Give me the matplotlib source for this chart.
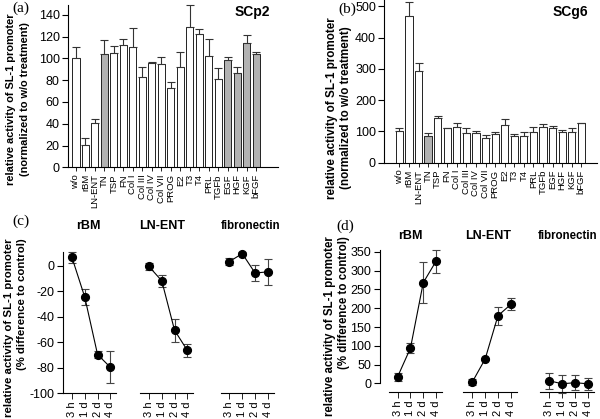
import matplotlib
matplotlib.use('Agg')
import matplotlib.pyplot as plt
import numpy as np

W, H = 600, 419
plt.rcParams['font.family'] = ['Liberation Sans', 'DejaVu Sans']
plt.rcParams['axes.unicode_minus'] = False
plt.rcParams['axes.linewidth'] = 0.8

# bar chart data (a) SCp2 and (b) SCg6
treatments = ['w/o', 'rBM', 'LN-ENT', 'TN', 'TSP', 'FN', 'Col I', 'Col III', 'Col IV',
              'Col VII', 'PROG', 'E2', 'T3', 'T4', 'PRL', 'TGFb', 'EGF', 'HGF', 'KGF', 'bFGF']
scp2_vals = [100, 20.5, 40.4, 103.6, 104.6, 112, 110, 82.5, 96, 94.5, 72.5, 91.7,
             128.4, 122.3, 101.8, 81.3, 98.4, 86.5, 114.3, 104]
scp2_err = [10.7, 6.5, 3.6, 12.9, 6.4, 5.4, 18, 9.5, 0.6, 6.7, 5.8, 13.8,
            20.2, 4.6, 15.9, 9.5, 3.1, 5.2, 6.7, 1.5]
scp2_gray = ['TN', 'EGF', 'HGF', 'KGF', 'bFGF']

scg6_vals = [101, 468, 292.5, 84, 141.5, 109.6, 115, 95.7, 95.7, 80, 90.4, 119,
             85, 85, 97, 114, 111.7, 99, 97, 125.5]
scg6_err = [8.6, 46, 25.5, 9.6, 6.5, 1, 12.7, 13.9, 6.3, 9, 7.6, 20,
            7.5, 14, 17, 10.5, 6.3, 7, 12.6, 2.2]
scg6_gray = ['TN']

# time course data (c) and (d)
times = ['3 h', '1 d', '2 d', '4 d']
panels = ['rBM', 'LN-ENT', 'fibronectin']
c_vals = [[6.5, -24.6, -69.6, -79.6],
          [-0.6, -11.8, -50.6, -66.4],
          [3.3, 9.5, -5.7, -4.8]]
c_err = [[4.2, 6, 2.5, 12.5],
         [3, 4.5, 9.2, 5.1],
         [3, 1, 6.1, 10.3]]
d_vals = [[18, 94, 268, 325],
          [4, 65, 180, 210],
          [7, -1, 2, -1]]
d_err = [[10.5, 14, 55, 31],
         [7, 3, 24.5, 16],
         [22, 24, 20, 16]]

fig = plt.figure(figsize=(W / 100, H / 100), dpi=100)


def px_axes(left, top, right, bottom):
    return fig.add_axes([left / W, 1 - bottom / H, (right - left) / W, (bottom - top) / H])


def bar_panel(box, vals, errs, gray, xlim, ylim, yticks, title, tx):
    ax = px_axes(*box)
    x = np.arange(len(treatments))
    colors = ['#b2b2b2' if t in gray else 'white' for t in treatments]
    ax.bar(x, vals, width=0.75, color=colors, edgecolor='#222222', linewidth=0.7)
    ax.errorbar(x, vals, yerr=[np.zeros(len(vals)), errs], fmt='none',
                ecolor='#333333', elinewidth=0.8, capsize=3, capthick=0.8, clip_on=False)
    ax.set_xlim(*xlim)
    ax.set_ylim(*ylim)
    ax.set_yticks(yticks)
    ax.set_xticks(x)
    ax.set_xticklabels(treatments, rotation=90, fontsize=6.8)
    ax.tick_params(axis='y', labelsize=9, length=4, width=0.8, pad=2)
    ax.tick_params(axis='x', length=3, width=0.6, pad=2)
    for s in ['top', 'right']:
        ax.spines[s].set_visible(False)
    fig.text(tx / W, 1 - 12 / H, title, fontsize=10, fontweight='bold', ha='center', va='center')
    return ax


bar_panel((68, 5, 278, 167.3), scp2_vals, scp2_err, scp2_gray, (-0.84, 21.3), (0, 149),
          np.arange(0, 141, 20), 'SCp2', 252)
bar_panel((384.3, 0, 596.7, 162.7), scg6_vals, scg6_err, scg6_gray, (-1.57, 20.6), (0, 520),
          np.arange(0, 501, 100), 'SCg6', 570)


def time_panel(lefts, top, bottom, vals, errs, ylim, yticks, left_offset, left_bounds,
               title_x, title_y):
    width = 4.15 * 12.8
    for i, l in enumerate(lefts):
        ax = px_axes(l, top, l + width, bottom)
        x = np.arange(len(times))
        ax.errorbar(x, vals[i], yerr=errs[i], fmt='none', ecolor='#444444',
                    elinewidth=0.8, capsize=3, capthick=0.8, clip_on=False)
        ax.plot(x, vals[i], color='black', linewidth=0.8, marker='o', markersize=5.6,
                clip_on=False, zorder=3)
        ax.set_xlim(-0.7, 3.45)
        ax.set_ylim(*ylim)
        ax.set_xticks(x)
        ax.set_xticklabels(times, rotation=90, fontsize=8)
        ax.tick_params(axis='x', length=4, width=0.6, pad=2)
        for s in ['top', 'right']:
            ax.spines[s].set_visible(False)
        if i == 0:
            ax.set_yticks(yticks)
            ax.tick_params(axis='y', labelsize=9, length=4, width=0.8, pad=2)
            ax.spines['left'].set_position(('outward', left_offset))
            if left_bounds is not None:
                ax.spines['left'].set_bounds(*left_bounds)
        else:
            ax.spines['left'].set_visible(False)
            ax.set_yticks([])
        fs = 8.3 if panels[i] == 'fibronectin' else 9
        fig.text(title_x[i] / W, 1 - title_y / H, panels[i], fontsize=fs,
                 fontweight='bold', ha='center', va='center')


time_panel([63, 140, 220.5], 251.7, 393.3, c_vals, c_err, (-100, 11),
           np.arange(-100, 1, 20), 0, None, [88, 162.5, 251], 226)
time_panel([388.7, 463.4, 540.4], 248.8, 391.7, d_vals, d_err, (-22, 358),
           np.arange(0, 351, 50), 6.5, (0, 355), [410, 488, 568], 236)

# y labels
fig.text(18 / W, 1 - 99 / H, 'relative activity of SL-1 promoter\n(normalized to w/o treatment)',
         rotation=90, fontsize=7.9, fontweight='bold', ha='center', va='center',
         multialignment='center', linespacing=1.45)
fig.text(339 / W, 1 - 108 / H, 'relative activity of SL-1 promoter\n(normalized to w/o treatment)',
         rotation=90, fontsize=8.4, fontweight='bold', ha='center', va='center',
         multialignment='center', linespacing=1.3)
fig.text(15.5 / W, 1 - 238 / H, 'relative activity of SL-1 promoter\n(% difference to control)',
         rotation=90, fontsize=8.2, fontweight='bold', ha='center', va='top',
         multialignment='right', linespacing=1.35)
fig.text(337 / W, 1 - 236 / H, 'relative activity of SL-1 promoter\n(% difference to control)',
         rotation=90, fontsize=8.3, fontweight='bold', ha='center', va='top',
         multialignment='right', linespacing=1.3)

# panel letters
for letter, lx, ly in [('(a)', 21, 8), ('(b)', 347, 9), ('(c)', 21, 221), ('(d)', 345, 226)]:
    fig.text(lx / W, 1 - ly / H, letter, fontsize=11, family='Liberation Serif',
             ha='center', va='center')

fig.savefig('out.png', dpi=100)
